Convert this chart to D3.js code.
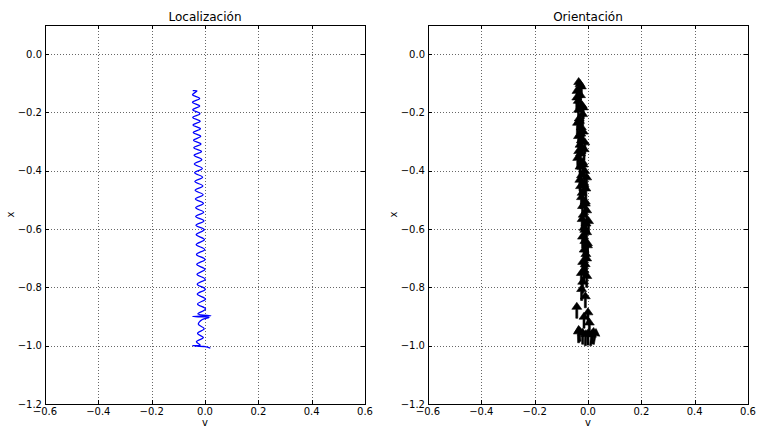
<!DOCTYPE html>
<html><head><meta charset="utf-8">
<script src="https://cdn.jsdelivr.net/npm/d3@7"></script>
<style>body{margin:0;background:#fff}svg{display:block}text{font-family:"DejaVu Sans",sans-serif;fill:#000}</style>
</head><body><svg id="c" width="758" height="428"></svg>
<script>
const titles = ["Localización", "Orientación"];
const xTicks = [-0.6, -0.4, -0.2, 0.0, 0.2, 0.4, 0.6];
const yTicks = [0.0, -0.2, -0.4, -0.6, -0.8, -1.0, -1.2];
const xLabel = "v", yLabel = "x";

// Localización: path (v, x)
const locV = [-0.046,-0.030,
  -0.047,-0.020,-0.047,-0.020,-0.046,-0.019,-0.046,-0.018,-0.045,-0.017,-0.044,-0.016,-0.043,-0.015,-0.042,-0.013,-0.041,-0.012,-0.040,-0.010,-0.039,-0.009,-0.038,-0.008,
  -0.037,-0.007,-0.036,-0.006,-0.035,-0.005,-0.035,-0.004,-0.034,-0.003,-0.033,-0.002,-0.033,-0.001,-0.032,0.000,-0.031,0.000,-0.030,0.001,-0.029,0.001,-0.029,0.002,-0.028,0.002,-0.027,
  0.022,-0.046,0.015,-0.010,-0.025,-0.003,-0.028,-0.006,-0.032,-0.018,-0.046,0.000,0.020];
const locX = [-0.125,-0.126,
  -0.139,-0.152,-0.165,-0.178,-0.191,-0.204,-0.217,-0.230,-0.243,-0.256,-0.269,-0.282,-0.295,-0.308,-0.321,-0.334,-0.347,
  -0.362,-0.377,-0.392,-0.407,-0.422,-0.437,-0.452,-0.467,-0.482,-0.497,-0.512,-0.527,-0.542,-0.557,-0.572,-0.587,-0.602,
  -0.619,-0.636,-0.653,-0.670,-0.687,-0.704,-0.721,-0.738,-0.755,-0.772,-0.789,-0.806,-0.823,-0.840,-0.857,-0.874,-0.891,
  -0.897,-0.900,-0.903,-0.910,-0.926,-0.942,-0.958,-0.972,-0.986,-0.998,-1.000,-1.003,-1.008];

// Orientación: arrow tails (v, x) and heading angle (deg, 90 = up)
const oriV = [-0.035,-0.025,-0.040,-0.028,-0.038,-0.022,-0.035,-0.020,-0.033,-0.040,-0.025,-0.018,-0.035,-0.025,-0.030,-0.015,-0.028,-0.038,-0.020,-0.030,-0.012,-0.025,-0.030,-0.015,-0.008,-0.022,-0.025,-0.010,-0.020,-0.005,-0.018,-0.022,-0.008,-0.015,-0.005,-0.020,-0.012,-0.002,-0.015,-0.008,-0.024,-0.005,-0.010,-0.042,-0.015,-0.005,-0.020,-0.010,-0.035,-0.020,-0.010,0.000,0.010,0.020,-0.030,0.005,
  -0.030,-0.042,-0.018,-0.032,-0.027,-0.012,-0.035,-0.018,-0.005,-0.028,-0.010,0.002,-0.012,-0.002,-0.020,-0.025,0.015,-0.015,0.000];
const oriX = [-0.135,-0.150,-0.165,-0.180,-0.200,-0.215,-0.230,-0.245,-0.260,-0.275,-0.290,-0.305,-0.320,-0.335,-0.350,-0.365,-0.380,-0.395,-0.410,-0.425,-0.440,-0.455,-0.470,-0.485,-0.500,-0.515,-0.530,-0.545,-0.560,-0.575,-0.590,-0.605,-0.620,-0.635,-0.650,-0.665,-0.680,-0.695,-0.710,-0.725,-0.845,-0.740,-0.760,-0.906,-0.780,-0.800,-0.820,-0.870,-0.990,-0.995,-1.000,-0.998,-1.000,-0.995,-0.985,-0.960,
  -0.142,-0.188,-0.222,-0.268,-0.312,-0.342,-0.372,-0.418,-0.462,-0.492,-0.552,-0.612,-0.642,-0.688,-0.752,-0.790,-0.992,-0.940,-0.925];
const oriA = [90,90,92,90,88,90,91,90,90,89,90,90,91,90,90,89,90,91,90,90,90,89,91,90,90,90,89,90,91,90,90,90,89,90,90,91,90,90,89,90,90,90,91,90,90,89,90,90,92,90,88,90,85,80,95,90,
  90,90,90,90,90,90,90,90,90,90,90,90,90,90,90,90,84,90,90];

const svg = d3.select("#c");
const panels = [{left:45,right:365,top:25,bottom:404},{left:428,right:748,top:25,bottom:404}];

panels.forEach((p, i) => {
  const x = d3.scaleLinear().domain([-0.6, 0.6]).range([p.left, p.right]);
  const y = d3.scaleLinear().domain([-1.2, 0.1]).range([p.bottom, p.top]);
  const g = svg.append("g");
  g.selectAll(".gx").data(xTicks).join("line")
    .attr("x1", d => Math.round(x(d)) + 0.5).attr("x2", d => Math.round(x(d)) + 0.5)
    .attr("y1", p.top).attr("y2", p.bottom)
    .attr("stroke", "#000").attr("stroke-width", 0.6).attr("stroke-dasharray", "1,2");
  g.selectAll(".gy").data(yTicks).join("line")
    .attr("y1", d => Math.round(y(d)) + 0.5).attr("y2", d => Math.round(y(d)) + 0.5)
    .attr("x1", p.left).attr("x2", p.right)
    .attr("stroke", "#000").attr("stroke-width", 0.6).attr("stroke-dasharray", "1,2");

  const clip = "clip" + i;
  svg.append("clipPath").attr("id", clip).append("rect")
    .attr("x", p.left).attr("y", p.top).attr("width", p.right - p.left).attr("height", p.bottom - p.top);
  const dg = g.append("g").attr("clip-path", `url(#${clip})`);

  if (i === 0) {
    const pts = locV.map((v, k) => [v, locX[k]]);
    dg.append("path").datum(pts)
      .attr("d", d3.line().x(d => x(d[0])).y(d => y(d[1])).curve(d3.curveCatmullRom))
      .attr("fill", "none").attr("stroke", "#0000ff").attr("stroke-width", 1.3);
  } else {
    const L = 16, hw = 5, hl = 7, sw = 1.0;
    oriV.forEach((v, k) => {
      const tx = x(v), ty = y(oriX[k]);
      const a = oriA[k] * Math.PI / 180;
      const dx = Math.cos(a), dy = -Math.sin(a);
      const nx = -dy, ny = dx;
      const sx = L - hl;
      const P = [
        [tx + nx*sw, ty + ny*sw],
        [tx + dx*sx + nx*sw, ty + dy*sx + ny*sw],
        [tx + dx*sx + nx*hw, ty + dy*sx + ny*hw],
        [tx + dx*L, ty + dy*L],
        [tx + dx*sx - nx*hw, ty + dy*sx - ny*hw],
        [tx + dx*sx - nx*sw, ty + dy*sx - ny*sw],
        [tx - nx*sw, ty - ny*sw]
      ];
      dg.append("polygon").attr("points", P.map(q => q.join(",")).join(" "))
        .attr("fill", "#000").attr("stroke", "#000").attr("stroke-width", 0.6);
    });
  }

  xTicks.forEach(t => {
    const xx = Math.round(x(t)) + 0.5;
    g.append("line").attr("x1", xx).attr("x2", xx).attr("y1", p.bottom).attr("y2", p.bottom - 4).attr("stroke", "#000");
    g.append("line").attr("x1", xx).attr("x2", xx).attr("y1", p.top).attr("y2", p.top + 4).attr("stroke", "#000");
  });
  yTicks.forEach(t => {
    const yy = Math.round(y(t)) + 0.5;
    g.append("line").attr("y1", yy).attr("y2", yy).attr("x1", p.left).attr("x2", p.left + 4).attr("stroke", "#000");
    g.append("line").attr("y1", yy).attr("y2", yy).attr("x1", p.right).attr("x2", p.right - 4).attr("stroke", "#000");
  });
  const fmt = d => (d < 0 ? "\u2212" : "") + Math.abs(d).toFixed(1);
  g.selectAll(".xl").data(xTicks).join("text")
    .attr("x", d => x(d)).attr("y", p.bottom + 11).attr("text-anchor", "middle")
    .attr("font-size", 10).text(fmt);
  g.selectAll(".yl").data(yTicks).join("text")
    .attr("x", p.left - 3).attr("y", d => y(d) + 3.5).attr("text-anchor", "end")
    .attr("font-size", 10).text(fmt);

  g.append("rect").attr("x", p.left + 0.5).attr("y", p.top + 0.5)
    .attr("width", p.right - p.left).attr("height", p.bottom - p.top)
    .attr("fill", "none").attr("stroke", "#000").attr("stroke-width", 1);

  g.append("text").attr("x", (p.left + p.right) / 2).attr("y", 21).attr("text-anchor", "middle")
    .attr("font-size", 12).text(titles[i]);
  g.append("text").attr("x", (p.left + p.right) / 2).attr("y", 426).attr("text-anchor", "middle")
    .attr("font-size", 10).text(xLabel);
  g.append("text").attr("transform", `translate(${p.left - 31},${(p.top + p.bottom) / 2}) rotate(-90)`)
    .attr("text-anchor", "middle").attr("font-size", 10).text(yLabel);
});
</script></body></html>
